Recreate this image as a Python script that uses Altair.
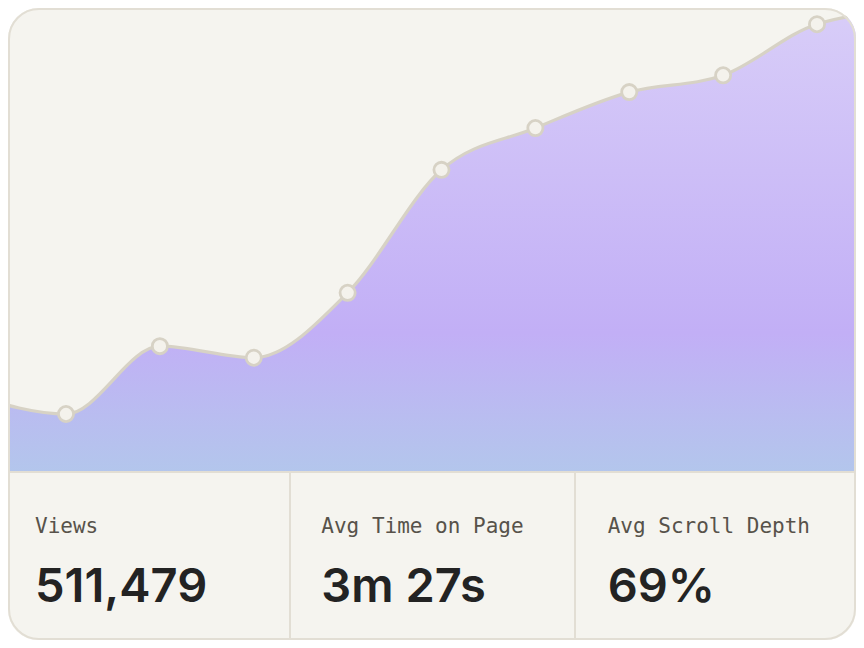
import altair as alt
import pandas as pd

# ===========================
# DADOS
# ===========================
days = [0, 1, 2, 3, 4, 5, 6, 7, 8, 9, 10]
views = [13300, 10000, 21700, 19700, 30900, 52100, 59300, 65500, 68400, 77200, 79700]
shown = [False, True, True, True, True, True, True, True, True, True, False]

stat_col = [0, 1, 2]
stat_labels = ["Views", "Avg Time on Page", "Avg Scroll Depth"]
stat_values = ["511,479", "3m 27s", "69%"]

W, H = 848, 632
PANEL_TOP = 464
BG = "#f5f4ef"
EDGE = "#e2ded4"
LINE = "#d7d2c5"

df = pd.DataFrame({"day": days, "views": views, "shown": shown})
stats = pd.DataFrame({"col": stat_col, "label": stat_labels, "value": stat_values})
one = pd.DataFrame({"k": [0]})

x_day = alt.X("day:Q", scale=alt.Scale(domain=[1, 9], range=[58, 809]), axis=None)
y_views = alt.Y("views:Q", scale=alt.Scale(domain=[0, 80000], range=[PANEL_TOP, 0]), axis=None)

# fundo do cartão
card = alt.Chart(one).mark_rect(fill=BG, cornerRadius=30).encode(
    x=alt.value(0), x2=alt.value(W), y=alt.value(0), y2=alt.value(H)
)

# área com gradiente
area = alt.Chart(df).mark_area(
    interpolate="monotone",
    clip=True,
    color=alt.Gradient(
        gradient="linear",
        stops=[
            alt.GradientStop(color="#d8cdf8", offset=0),
            alt.GradientStop(color="#c2aff6", offset=0.7),
            alt.GradientStop(color="#b3c6ec", offset=1),
        ],
        x1=0, x2=0, y1=0, y2=1,
    ),
).encode(x=x_day, y=y_views)

line = alt.Chart(df).mark_line(
    interpolate="monotone", clip=True, color=LINE, strokeWidth=3.2
).encode(x=x_day, y=y_views)

points = alt.Chart(df).transform_filter(alt.datum.shown).mark_point(
    filled=True, size=230, fill="#f4f2ec", stroke=LINE, strokeWidth=2.8, opacity=1
).encode(x=x_day, y=y_views)

# painel inferior
panel = alt.Chart(one).mark_rect(fill=BG).encode(
    x=alt.value(0), x2=alt.value(W), y=alt.value(PANEL_TOP), y2=alt.value(H)
)
hrule = alt.Chart(one).mark_rule(color=EDGE, strokeWidth=2).encode(
    x=alt.value(0), x2=alt.value(W), y=alt.value(PANEL_TOP)
)
vrule1 = alt.Chart(one).mark_rule(color=EDGE, strokeWidth=2).encode(
    x=alt.value(282), y=alt.value(PANEL_TOP), y2=alt.value(H)
)
vrule2 = alt.Chart(one).mark_rule(color=EDGE, strokeWidth=2).encode(
    x=alt.value(567), y=alt.value(PANEL_TOP), y2=alt.value(H)
)

x_col = alt.X("col:Q", scale=alt.Scale(domain=[0, 3], range=[27, 886]), axis=None)

labels = alt.Chart(stats).mark_text(
    align="left", baseline="alphabetic", font="DejaVu Sans Mono",
    fontSize=21, color="#57524a"
).encode(x=x_col, y=alt.value(525), text="label:N")

values = alt.Chart(stats).mark_text(
    align="left", baseline="alphabetic", font="Inter",
    fontSize=47, fontWeight=600, color="#232323"
).encode(x=x_col, y=alt.value(594), text="value:N")

# cantos brancos + borda do cartão
corners = alt.Chart(one).mark_rect(
    fill=None, filled=False, stroke="white", strokeWidth=40, cornerRadius=50
).encode(x=alt.value(-20), x2=alt.value(W + 20), y=alt.value(-20), y2=alt.value(H + 20))

border = alt.Chart(one).mark_rect(
    fill=None, filled=False, stroke=EDGE, strokeWidth=2, cornerRadius=30
).encode(x=alt.value(1), x2=alt.value(W - 1), y=alt.value(1), y2=alt.value(H - 1))

chart = alt.layer(
    card, area, line, points, panel, hrule, vrule1, vrule2, labels, values, corners, border
).resolve_scale(x="independent", y="independent").properties(
    width=W, height=H, padding=0, background="white",
    autosize=alt.AutoSizeParams(type="none")
).configure_view(stroke=None)

chart.save("out.html", embed_options={"renderer": "svg", "actions": False})
